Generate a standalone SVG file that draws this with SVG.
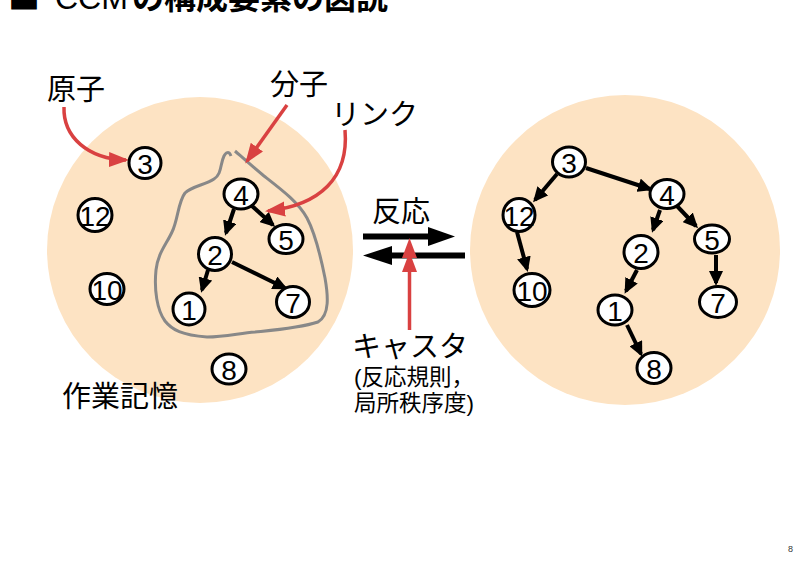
<svg xmlns="http://www.w3.org/2000/svg" width="804" height="563" viewBox="0 0 804 563">
<defs>
<style>
.bg{fill:#fde3c3}
.nd ellipse{fill:#fff;stroke:#000;stroke-width:3}
.nd text{font-family:"Liberation Sans",Arial,sans-serif;font-size:28px;text-anchor:middle;fill:#000}
.lbl{font-family:"Noto Sans CJK JP","Liberation Sans",sans-serif;font-size:29px;fill:#000}
.sm{font-family:"Liberation Sans","Noto Sans CJK JP",sans-serif;font-size:22.5px;fill:#000;text-anchor:middle}
.blk{stroke:#000;stroke-width:4;fill:none;marker-end:url(#ah)}
.red{stroke:#d94141;stroke-width:3.5;fill:none;marker-end:url(#rh)}
.thick{stroke:#000;stroke-width:6;fill:none}
</style>
<marker id="ah" markerUnits="userSpaceOnUse" markerWidth="16" markerHeight="14" refX="12" refY="7" orient="auto">
<path d="M0,0 L15,7 L0,14 z" fill="#000"/>
</marker>
<marker id="rh" markerUnits="userSpaceOnUse" markerWidth="20" markerHeight="16" refX="17" refY="7.5" orient="auto">
<path d="M0,0 L20,7.5 L0,15 z" fill="#d94141"/>
</marker>
</defs>
<rect width="804" height="563" fill="#fff"/>

<g id="title">
<text y="9" font-size="32" font-family="Noto Sans CJK JP,Liberation Sans,sans-serif"><tspan x="8">■</tspan><tspan x="55" font-family="Liberation Sans,sans-serif">CCM</tspan><tspan x="132" font-weight="bold">の構成要素の図説</tspan></text>
</g>

<g id="wm-left"><circle class="bg" cx="200" cy="250" r="153"/></g>
<g id="wm-right"><circle class="bg" cx="625" cy="250" r="155"/></g>

<g id="molecule">
<path d="M231,156 C229,151 226,152 224,156 C220,164 222,174 214,179 C205,185 192,186 185,193 C178,202 178,220 172,232 C166,245 158,253 156,270 C154,290 157,310 165,321 C172,330 182,335 207,337 C225,337 240,333 255,332 C275,330 300,328 318,322 C330,315 328,295 325,278 C321,258 316,235 307,218 C298,202 282,190 264,176 C253,167 243,158 235,151" stroke="#888" stroke-width="3" fill="none"/>
</g>

<g id="connectors">
<!-- left -->
<line class="blk" x1="234" y1="209" x2="226" y2="233"/>
<line class="blk" x1="252" y1="206" x2="273" y2="225"/>
<line class="blk" x1="208" y1="270" x2="202" y2="290"/>
<line class="blk" x1="232" y1="262" x2="285" y2="288"/>
<!-- right -->
<line class="blk" x1="557" y1="174" x2="535" y2="200"/>
<line class="blk" x1="586" y1="168" x2="650" y2="189"/>
<line class="blk" x1="517" y1="232" x2="527" y2="269"/>
<line class="blk" x1="660" y1="210" x2="653" y2="230"/>
<line class="blk" x1="677" y1="206" x2="696" y2="226"/>
<line class="blk" x1="716" y1="255" x2="716" y2="283"/>
<line class="blk" x1="637" y1="270" x2="626" y2="291"/>
<line class="blk" x1="627" y1="325" x2="641" y2="354"/>
<!-- reaction -->
<path d="M363,236.5 L430,236.5" class="thick"/>
<path d="M428,227 L455,236.5 L428,246 z" fill="#000"/>
<path d="M465,255.5 L390,255.5" class="thick"/>
<path d="M392,246 L363,255.5 L392,265 z" fill="#000"/>
<!-- red annotations -->
<path class="red" d="M64,107 C63,137 88,159 126,160"/>
<line class="red" x1="287" y1="105" x2="247" y2="161"/>
<path class="red" d="M345,130 C349,178 320,205 268,211"/>
<line class="red" x1="409.5" y1="330" x2="409.5" y2="255"/>
<path d="M402,258 L409.5,238 L417,258 z" fill="#d94141"/>
</g>

<g id="L3" class="nd"><ellipse cx="145" cy="163" rx="16" ry="15.5"/><text x="145" y="174">3</text></g>
<g id="L12" class="nd"><ellipse cx="95" cy="215" rx="17" ry="16.5"/><text x="95" y="226">12</text></g>
<g id="L10" class="nd"><ellipse cx="107" cy="289" rx="17" ry="15.5"/><text x="107" y="300">10</text></g>
<g id="L4" class="nd"><ellipse cx="241" cy="194" rx="17" ry="15"/><text x="241" y="205">4</text></g>
<g id="L5" class="nd"><ellipse cx="286" cy="239" rx="17" ry="14.5"/><text x="286" y="250">5</text></g>
<g id="L2" class="nd"><ellipse cx="215" cy="254" rx="16.5" ry="16.5"/><text x="215" y="265">2</text></g>
<g id="L7" class="nd"><ellipse cx="293" cy="302" rx="16.5" ry="15.5"/><text x="293" y="313">7</text></g>
<g id="L1" class="nd"><ellipse cx="189" cy="309" rx="16" ry="16"/><text x="189" y="320">1</text></g>
<g id="L8" class="nd"><ellipse cx="229" cy="369" rx="17" ry="15"/><text x="229" y="380">8</text></g>

<g id="R3" class="nd"><ellipse cx="569" cy="162" rx="16.5" ry="15"/><text x="569" y="173">3</text></g>
<g id="R4" class="nd"><ellipse cx="667" cy="194" rx="17" ry="14.5"/><text x="667" y="205">4</text></g>
<g id="R12" class="nd"><ellipse cx="519" cy="215" rx="16" ry="16.5"/><text x="519" y="226">12</text></g>
<g id="R2" class="nd"><ellipse cx="641" cy="252" rx="17" ry="16.5"/><text x="641" y="263">2</text></g>
<g id="R5" class="nd"><ellipse cx="712" cy="239" rx="17.5" ry="14"/><text x="712" y="250">5</text></g>
<g id="R10" class="nd"><ellipse cx="532" cy="290" rx="18" ry="16.5"/><text x="532" y="301">10</text></g>
<g id="R1" class="nd"><ellipse cx="615" cy="310" rx="17" ry="15"/><text x="615" y="321">1</text></g>
<g id="R7" class="nd"><ellipse cx="718" cy="302" rx="18.5" ry="15.5"/><text x="718" y="313">7</text></g>
<g id="R8" class="nd"><ellipse cx="654" cy="368" rx="17" ry="15.5"/><text x="654" y="379">8</text></g>

<g id="labels">
<text class="lbl" x="47" y="100" font-size="30">原子</text>
<text class="lbl" x="270" y="95">分子</text>
<text class="lbl" x="331" y="125">リンク</text>
<text class="lbl" x="372" y="222">反応</text>
<text class="lbl" x="352" y="357" font-size="30">キャスタ</text>
<text class="sm" x="414" y="385">(反応規則，</text>
<text class="sm" x="414" y="411">局所秩序度)</text>
<text class="lbl" x="62" y="407" font-size="30">作業記憶</text>
<text x="788" y="552" font-family="Liberation Sans,sans-serif" font-size="9" fill="#333">8</text>
</g>
</svg>
